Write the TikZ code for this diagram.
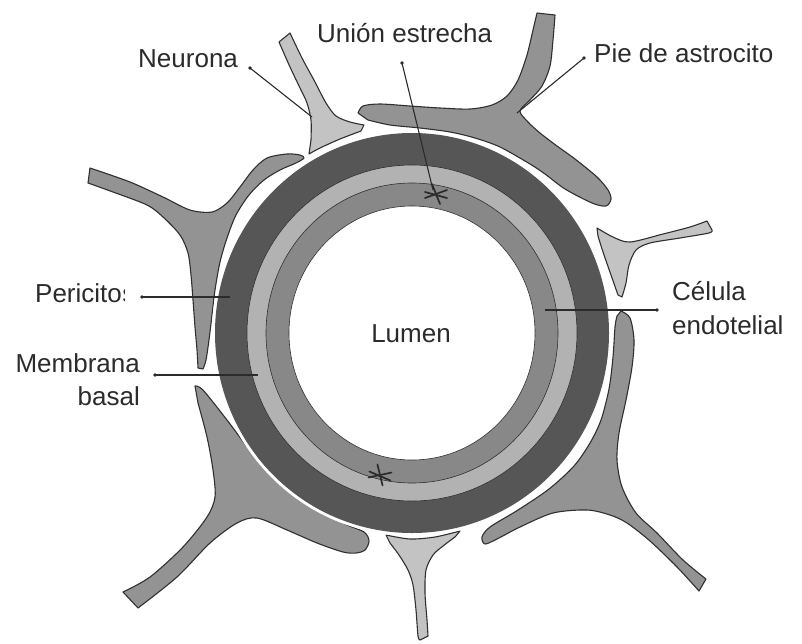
\documentclass[tikz,border=0pt]{standalone}
\usepackage{fontspec}
\setmainfont{Liberation Sans}
\definecolor{ink}{HTML}{2B2B2B}
\definecolor{edge}{HTML}{303030}
\definecolor{astro}{HTML}{939393}
\definecolor{neuro}{HTML}{C3C3C3}
\definecolor{pericyte}{HTML}{565656}
\definecolor{basement}{HTML}{B2B2B2}
\definecolor{endothel}{HTML}{888888}
\begin{document}
\begin{tikzpicture}[x=1pt,y=-1pt,
  glia/.style={fill=astro,draw=edge,line width=1.1pt,line join=round},
  nerve/.style={fill=neuro,draw=edge,line width=1.1pt,line join=round},
  lbl/.style={text=ink,font=\fontsize{26}{31}\selectfont,inner sep=0pt},
  lead/.style={draw=ink,line width=1.1pt},
  junc/.style={draw=ink,line width=1.7pt,line cap=round},
  tjmark/.pic={
    \draw[junc] (-11,4) -- (11,-4);
    \draw[junc] (-11,-2) -- (11,4);
    \draw[junc] (-4,-10) -- (4,10);
  }]
\useasboundingbox (0,0) rectangle (802,643);
\fill[white] (0,0) rectangle (802,643);
\coordinate (C) at (412,333);

% --- neuron ending, top left
\draw[nerve] plot[smooth,tension=0.5] coordinates {(290,33) (302,58) (315,82) (326,103) (336,116) (350,122) (364,125)}
  -- plot[smooth,tension=0.5] coordinates {(361,131) (340,139) (320,148) (309,154)}
  -- plot[smooth,tension=0.5] coordinates {(311,140) (311,120) (307,103) (300,88) (290,67) (279,42)}
  -- cycle;

% --- astrocyte, top
\draw[glia] plot[smooth,tension=0.5] coordinates {(358,113) (363,106) (380,104) (410,106) (440,108) (470,109) (492,105) (507,96) (518,80) (527,55) (533,30) (537,13)}
  -- plot[smooth,tension=0.5] coordinates {(555,15) (553,40) (550,66) (542,86) (530,100) (520,111) (528,122) (540,133) (557,146) (575,159) (597,177) (608,190) (611,199) (606,206) (592,203) (565,189) (545,174) (530,164) (500,147) (475,138) (450,132) (420,128) (390,125) (368,120)}
  -- cycle;

% --- astrocyte, upper left
\draw[glia] plot[smooth,tension=0.5] coordinates {(90,168) (130,182) (163,197) (190,210) (212,212) (227,203) (240,187) (253,170) (267,158) (287,154) (300,155) (304,158)
  (296,163) (280,170) (264,180) (249,195) (236,215) (227,238) (220,262) (215,290) (212,315) (209,340) (206,360) (203,369)}
  -- plot[smooth,tension=0.5] coordinates {(198,368) (197,350) (195,327) (193,300) (191,275) (188,253) (180,235) (163,217) (147,205) (113,192) (88,183)}
  -- cycle;

% --- neuron ending, right
\draw[nerve] plot[smooth,tension=0.5] coordinates {(597,228) (613,237) (630,242) (663,234) (690,227) (707,221)}
  -- plot[smooth,tension=0.5] coordinates {(712,230) (709,233) (680,238) (650,243) (636,250) (629,265) (626,283) (622,297)}
  -- plot[smooth,tension=0.5] coordinates {(618,295) (611,275) (603,252) (598,236)}
  -- cycle;

% --- astrocyte, lower right
\draw[glia] plot[smooth,tension=0.5] coordinates {(621,311) (630,318) (634,340) (632,367) (626,400) (619,433) (617,460) (622,487) (636,513) (657,533) (683,560) (706,579)}
  -- plot[smooth,tension=0.5] coordinates {(699,591) (677,567) (650,541) (627,523) (610,515) (587,510) (553,513) (520,527) (497,539) (485,544) (482,537) (490,527) (518,510) (549,489) (574,466) (590,443) (601,420) (609,389) (613,357) (615,327) (617,316)}
  -- cycle;

% --- astrocyte, lower left
\draw[glia] plot[smooth,tension=0.5] coordinates {(195,386) (203,390) (227,420) (250,450) (277,477) (310,503) (343,523) (364,532) (369,541) (365,550) (356,553) (343,552) (317,543) (287,530) (257,518) (237,523) (210,543) (177,577) (138,608)}
  -- plot[smooth,tension=0.5] coordinates {(123,592) (150,577) (183,547) (207,517) (215,497) (213,470) (207,437) (198,403)}
  -- cycle;

% --- neuron ending, bottom
\draw[nerve] plot[smooth,tension=0.5] coordinates {(386,535) (410,539) (435,537) (460,531)}
  -- plot[smooth,tension=0.5] coordinates {(455,537) (443,546) (433,555) (426,570) (425,593) (427,620) (428,636)}
  -- plot[smooth,tension=0.5] coordinates {(420,640) (418,636) (416,610) (413,585) (408,570) (399,555) (390,543)}
  -- cycle;

% --- capillary wall: pericyte layer, basement membrane, endothelium, lumen
\draw[white,line width=3pt] (C) ellipse [x radius=198.5, y radius=201.5];
\fill[pericyte] (C) ellipse [x radius=197, y radius=200];
\fill[basement] (C) ellipse [x radius=165, y radius=168];
\fill[endothel] (C) ellipse [x radius=146, y radius=150];
\fill[white] (C) ellipse [x radius=123, y radius=127];
\draw[edge,line width=0.6pt] (C) ellipse [x radius=165, y radius=168];
\draw[edge,line width=0.6pt] (C) ellipse [x radius=146, y radius=150];
\draw[edge,line width=0.6pt] (C) ellipse [x radius=123, y radius=127];

% --- tight junctions
\pic at (436,194) {tjmark};
\pic[rotate=-8] at (380,475) {tjmark};

% --- labels
\node[lbl,anchor=base west] (neurona) at (138,67) {Neurona};
\node[lbl,anchor=base west] (union) at (317,42) {Unión estrecha};
\node[lbl,anchor=base west] (pie) at (594,62) {Pie de astrocito};
\node[lbl,anchor=base west] (peri) at (35,302) {Pericito};
\begin{scope}
  \clip ([yshift=-5pt]peri.base east) rectangle ++(2.8,-25);
  \node[lbl,anchor=base west] (peris) at (peri.base east) {s};
\end{scope}
\node[lbl,anchor=base east] (membr) at (140,372) {Membrana};
\node[lbl,anchor=base east] (basal) at (140,405) {basal};
\node[lbl,anchor=base west] (celula) at (672,300) {Célula};
\node[lbl,anchor=base west] (endot) at (672,334) {endotelial};
\node[lbl,anchor=base] (lumen) at (411,342) {Lumen};

% --- leader lines
\coordinate (neuD) at (250,68);   \coordinate (neuE) at (312,117);
\coordinate (uniD) at (402,63);   \coordinate (uniE) at (433,190);
\coordinate (pieD) at (584,58);   \coordinate (pieE) at (517,113);
\coordinate (perD) at (142,297);  \coordinate (perE) at (230,297);
\coordinate (memD) at (155,375);  \coordinate (memE) at (258,375);
\coordinate (celD) at (657,310);  \coordinate (celE) at (545,310);
\draw[lead] (neuD) -- (neuE);
\draw[lead] (uniD) -- (uniE);
\draw[lead] (pieD) -- (pieE);
\draw[lead] (perD) -- (perE);
\draw[lead] (memD) -- (memE);
\draw[lead] (celD) -- (celE);
\foreach \d in {neuD,uniD,pieD,perD,memD,celD} \fill[ink] (\d) circle (1.9);
\end{tikzpicture}
\end{document}
